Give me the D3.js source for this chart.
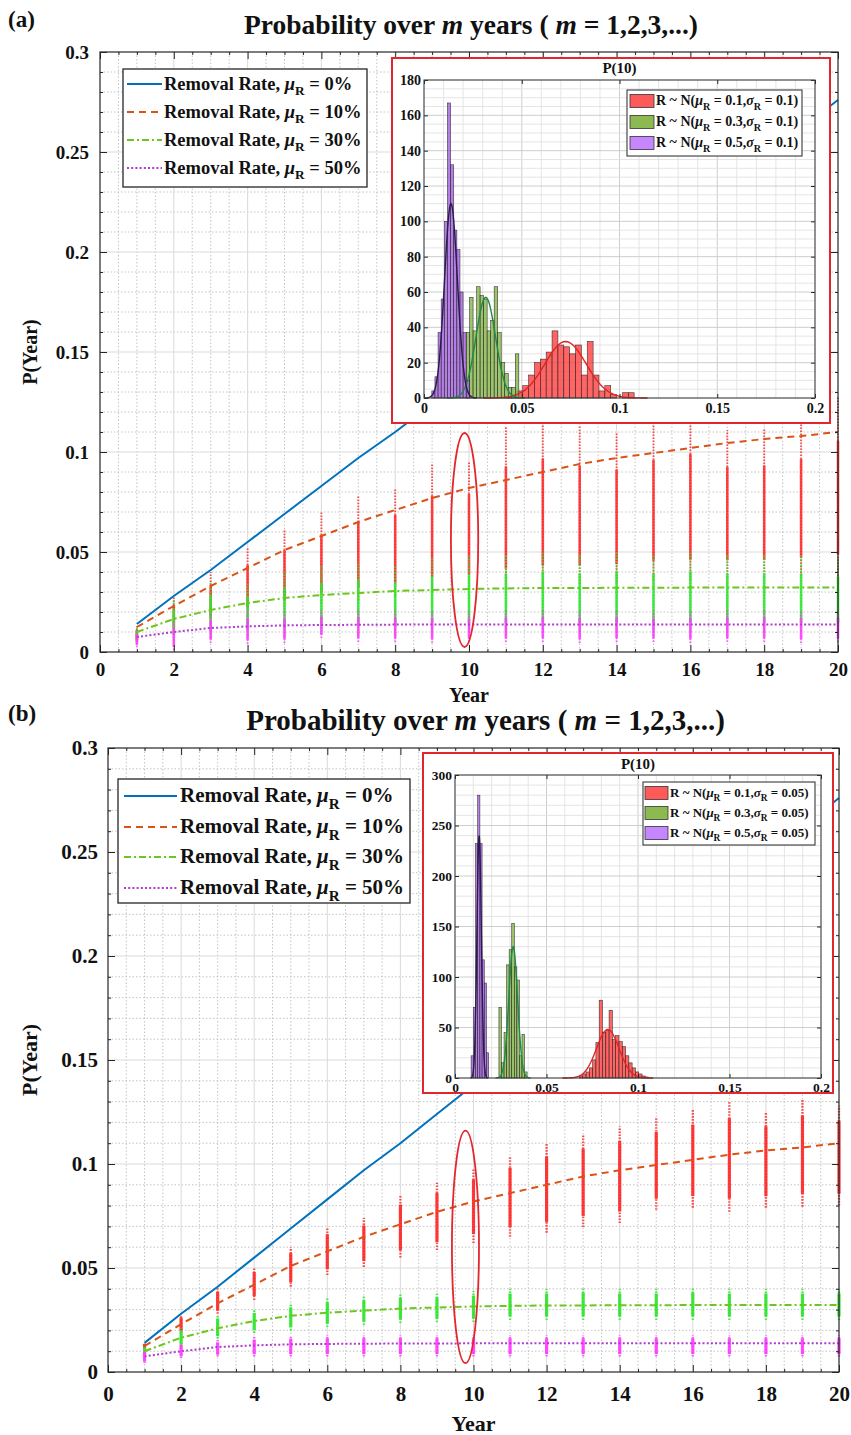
<!DOCTYPE html>
<html>
<head>
<meta charset="utf-8">
<script src="https://cdn.jsdelivr.net/npm/d3@7"></script>
<style>
  body { margin: 0; background: #fff; }
  svg { display: block; font-family: "Liberation Serif", "Times New Roman", serif; font-weight: bold; }
</style>
</head>
<body>
<svg id="fig" width="851" height="1435"></svg>
<script>
// ---------- data ----------
const years = [1, 2, 3, 4, 5, 6, 7, 8, 9, 10, 11, 12, 13, 14, 15, 16, 17, 18, 19, 20];
const xTickLabels = [0, 2, 4, 6, 8, 10, 12, 14, 16, 18, 20];
const yTickLabels = [0, 0.05, 0.1, 0.15, 0.2, 0.25, 0.3];

// mean probability curves for each removal rate
const pRate0  = [0.014, 0.028, 0.041, 0.055, 0.069, 0.083, 0.097, 0.110, 0.124, 0.138, 0.152, 0.166, 0.179, 0.193, 0.207, 0.221, 0.235, 0.248, 0.262, 0.276];
const pRate10 = [0.0125, 0.023, 0.033, 0.042, 0.051, 0.058, 0.065, 0.071, 0.077, 0.082, 0.086, 0.090, 0.094, 0.097, 0.0995, 0.102, 0.1045, 0.1065, 0.108, 0.110];
const pRate30 = [0.010, 0.0165, 0.021, 0.0245, 0.027, 0.0285, 0.0295, 0.0305, 0.031, 0.0315, 0.0318, 0.032, 0.032, 0.0321, 0.0321, 0.0322, 0.0322, 0.0322, 0.0322, 0.0322];
const pRate50 = [0.0075, 0.010, 0.012, 0.0128, 0.0133, 0.0135, 0.0136, 0.0137, 0.0137, 0.0138, 0.0138, 0.0138, 0.0138, 0.0138, 0.0138, 0.0138, 0.0138, 0.0138, 0.0138, 0.0138];
const legendRates = ["0%", "10%", "30%", "50%"];

// Monte Carlo spread (min / max of simulated P) per year, sigma_R = 0.1
const spreadA = {
  r10Lo: [0.005, 0.010, 0.014, 0.018, 0.021, 0.024, 0.026, 0.028, 0.030, 0.031, 0.032, 0.033, 0.034, 0.035, 0.036, 0.036, 0.037, 0.037, 0.038, 0.038],
  r10Hi: [0.013, 0.028, 0.040, 0.052, 0.061, 0.070, 0.078, 0.082, 0.094, 0.095, 0.113, 0.118, 0.113, 0.110, 0.116, 0.120, 0.111, 0.112, 0.116, 0.128],
  r30Lo: [0.004, 0.006, 0.007, 0.008, 0.008, 0.009, 0.009, 0.009, 0.010, 0.010, 0.010, 0.010, 0.010, 0.010, 0.010, 0.010, 0.010, 0.010, 0.010, 0.010],
  r30Hi: [0.013, 0.026, 0.035, 0.034, 0.040, 0.043, 0.045, 0.043, 0.047, 0.048, 0.049, 0.050, 0.049, 0.050, 0.049, 0.050, 0.049, 0.049, 0.049, 0.047],
  r50Lo: [0.0025, 0.001, 0.0045, 0.004, 0.0045, 0.007, 0.005, 0.005, 0.0045, 0.005, 0.005, 0.005, 0.0045, 0.005, 0.005, 0.0045, 0.005, 0.005, 0.0045, 0.005],
  r50Hi: [0.011, 0.016, 0.0195, 0.021, 0.0205, 0.021, 0.0215, 0.021, 0.021, 0.0205, 0.021, 0.0215, 0.021, 0.021, 0.0205, 0.021, 0.021, 0.0215, 0.021, 0.021]
};
// Monte Carlo spread per year, sigma_R = 0.05
const spreadB = {
  r10Lo: [0.011, 0.0188, 0.028, 0.0346, 0.041, 0.0466, 0.0505, 0.055, 0.0586, 0.062, 0.065, 0.067, 0.0697, 0.0716, 0.078, 0.079, 0.077, 0.079, 0.0795, 0.080],
  r10Hi: [0.014, 0.0274, 0.0404, 0.0505, 0.060, 0.0697, 0.074, 0.085, 0.091, 0.098, 0.104, 0.110, 0.114, 0.118, 0.122, 0.126, 0.130, 0.125, 0.131, 0.128],
  r30Lo: [0.008, 0.012, 0.016, 0.0188, 0.020, 0.0216, 0.0226, 0.0235, 0.024, 0.024, 0.025, 0.025, 0.025, 0.025, 0.025, 0.025, 0.025, 0.025, 0.025, 0.025],
  r30Hi: [0.0125, 0.021, 0.0274, 0.030, 0.033, 0.0356, 0.0365, 0.038, 0.038, 0.039, 0.040, 0.040, 0.0405, 0.040, 0.040, 0.0405, 0.040, 0.040, 0.040, 0.040],
  r50Lo: [0.0043, 0.0067, 0.0074, 0.0074, 0.0074, 0.0074, 0.0074, 0.0074, 0.0074, 0.0074, 0.0074, 0.0074, 0.0074, 0.0074, 0.0074, 0.0074, 0.0074, 0.0074, 0.0074, 0.0074],
  r50Hi: [0.0106, 0.014, 0.0155, 0.017, 0.0175, 0.0178, 0.0178, 0.0178, 0.0178, 0.0178, 0.0178, 0.0178, 0.0178, 0.0178, 0.0178, 0.0178, 0.0178, 0.0178, 0.0178, 0.0178]
};

// P(10) histograms, sigma_R = 0.1  (order: mu_R = 0.1, 0.3, 0.5)
const binStartA = [0.0415, 0.0215, 0.004];
const binWidthA = [0.003, 0.0018, 0.0016];
const countsRedA    = [1, 2, 4, 7, 13, 20, 22, 26, 38, 30, 29, 25, 30, 13, 32, 13, 4, 7, 2, 0, 3, 3];
const countsGreenA  = [37, 57, 38, 63, 58, 56, 38, 44, 63, 37, 20, 14, 6, 6, 25];
const countsPurpleA = [4, 12, 37, 56, 100, 167, 132, 95, 84, 60, 37, 10];
const fitMeanA = [0.0724, 0.0316, 0.0138];
const fitSdA   = [0.0105, 0.0050, 0.0033];
const fitPeakA = [32, 57, 110];
const histYTicksA = [0, 20, 40, 60, 80, 100, 120, 140, 160, 180];

// P(10) histograms, sigma_R = 0.05
const binStartB = [0.068, 0.024, 0.0088];
const binWidthB = [0.0018, 0.0014, 0.0012];
const countsRedB    = [2, 4, 6, 10, 18, 35, 77, 45, 47, 67, 38, 42, 36, 31, 22, 15, 10, 6, 4, 2, 1];
const countsGreenB  = [70, 15, 45, 112, 127, 153, 110, 97, 22, 43, 6];
const countsPurpleB = [22, 70, 232, 280, 232, 117, 94, 25];
const fitMeanB = [0.0835, 0.0318, 0.0132];
const fitSdB   = [0.0062, 0.0024, 0.0012];
const fitPeakB = [48, 130, 240];
const histYTicksB = [0, 50, 100, 150, 200, 250, 300];
const histXTicks = [0, 0.05, 0.1, 0.15, 0.2];
const histMus = ["0.1", "0.3", "0.5"];

// ---------- styles ----------
const curveStyles = [
  { color: "#0072BD", dash: null },
  { color: "#D95319", dash: "7,5" },
  { color: "#6cc61e", dash: "7,3,2,3" },
  { color: "#b23ad0", dash: "2,2.2" }
];
const streakColors = ["#ff2a2a", "#2ee62e", "#ff3cff"];
const histFill = ["#ff3e3e", "#86b548", "#a35fe0"];
const histSwatch = ["#ff5a5a", "#8cba50", "#c586ff"];
const fitColors = ["#e02525", "#1e8a4c", "#2b1a4f"];

const svg = d3.select("#fig");
const fmt = d => String(+d.toFixed(3));

function rich(textSel, parts, fs) {
  let prevSub = false;
  parts.forEach(p => {
    const ts = textSel.append("tspan").text(p.t);
    if (p.it) ts.attr("font-style", "italic");
    if (p.sub) ts.attr("font-size", fs * 0.72);
    if (p.sub && !prevSub) ts.attr("dy", fs * 0.32);
    else if (!p.sub && prevSub) ts.attr("dy", -fs * 0.32);
    prevSub = !!p.sub;
  });
}

function styleAxis(g, fs) {
  g.select(".domain").remove();
  g.selectAll("line").attr("stroke", "#262626");
  g.selectAll("text").attr("font-family", "Liberation Serif, serif")
    .attr("font-weight", "bold").attr("font-size", fs).attr("fill", "#111");
}

// ---------- main panel ----------
function drawMain(P) {
  const g = svg.append("g");
  const x = d3.scaleLinear().domain([0, 20]).range([P.left, P.right]);
  const y = d3.scaleLinear().domain([0, 0.3]).range([P.bottom, P.top]);

  // grid: minor dotted, major solid
  const gx = d3.range(0.5, 20, 0.5).filter(v => v % 2 !== 0);
  const gy = d3.range(1, 30).map(v => v / 100).filter((v, i) => (i + 1) % 5 !== 0);
  g.append("g").selectAll("line").data(gx).join("line")
    .attr("x1", d => x(d)).attr("x2", d => x(d)).attr("y1", P.top).attr("y2", P.bottom)
    .attr("stroke", "#bdbdbd").attr("stroke-width", 0.9).attr("stroke-dasharray", "1.5,2");
  g.append("g").selectAll("line").data(gy).join("line")
    .attr("y1", d => y(d)).attr("y2", d => y(d)).attr("x1", P.left).attr("x2", P.right)
    .attr("stroke", "#bdbdbd").attr("stroke-width", 0.9).attr("stroke-dasharray", "1.5,2");
  g.append("g").selectAll("line").data(xTickLabels.slice(1, -1)).join("line")
    .attr("x1", d => x(d)).attr("x2", d => x(d)).attr("y1", P.top).attr("y2", P.bottom)
    .attr("stroke", "#dcdcdc").attr("stroke-width", 1.1);
  g.append("g").selectAll("line").data(yTickLabels.slice(1, -1)).join("line")
    .attr("y1", d => y(d)).attr("y2", d => y(d)).attr("x1", P.left).attr("x2", P.right)
    .attr("stroke", "#dcdcdc").attr("stroke-width", 1.1);

  // Monte Carlo spreads
  const S = P.spread;
  const groups = [[S.r10Lo, S.r10Hi], [S.r30Lo, S.r30Hi], [S.r50Lo, S.r50Hi]];
  groups.forEach(([lo, hi], k) => {
    const sg = g.append("g");
    const rows = years.map((yr, i) => ({ yr, lo: lo[i], hi: hi[i] }));
    sg.selectAll("line.out").data(rows).join("line").attr("class", "out")
      .attr("x1", d => x(d.yr)).attr("x2", d => x(d.yr))
      .attr("y1", d => y(d.lo)).attr("y2", d => y(d.hi))
      .attr("stroke", streakColors[k]).attr("stroke-width", P.streakW * 0.75)
      .attr("stroke-dasharray", "1.6,1.4").attr("opacity", 0.8);
    sg.selectAll("line.core").data(rows).join("line").attr("class", "core")
      .attr("x1", d => x(d.yr)).attr("x2", d => x(d.yr))
      .attr("y1", d => y(d.lo + 0.12 * (d.hi - d.lo))).attr("y2", d => y(d.hi - P.coreTop * (d.hi - d.lo)))
      .attr("stroke", streakColors[k]).attr("stroke-width", P.streakW).attr("opacity", P.coreOpacity);
  });

  // mean curves
  const line = d3.line().x((d, i) => x(years[i])).y(d => y(d));
  [pRate0, pRate10, pRate30, pRate50].forEach((s, k) => {
    g.append("path").attr("d", line(s)).attr("fill", "none")
      .attr("stroke", curveStyles[k].color).attr("stroke-width", 2)
      .attr("stroke-dasharray", curveStyles[k].dash);
  });

  // highlight of year 10
  const E = P.ellipse;
  g.append("ellipse")
    .attr("cx", x(E.year)).attr("cy", (y(E.lo) + y(E.hi)) / 2)
    .attr("rx", x(E.year + E.halfW) - x(E.year)).attr("ry", (y(E.lo) - y(E.hi)) / 2)
    .attr("fill", "none").attr("stroke", "#e3262d").attr("stroke-width", 1.8);

  // axes
  const ax = g.append("g");
  const bottom = ax.append("g").attr("transform", `translate(0,${P.bottom})`)
    .call(d3.axisBottom(x).tickValues(xTickLabels).tickSize(-7).tickPadding(P.tickPad).tickFormat(fmt));
  styleAxis(bottom, P.tickFs);
  const top = ax.append("g").attr("transform", `translate(0,${P.top})`)
    .call(d3.axisTop(x).tickValues(xTickLabels).tickSize(-7).tickFormat(""));
  styleAxis(top, P.tickFs);
  const left = ax.append("g").attr("transform", `translate(${P.left},0)`)
    .call(d3.axisLeft(y).tickValues(yTickLabels).tickSize(-7).tickPadding(P.tickPadY).tickFormat(fmt));
  styleAxis(left, P.tickFs);
  const right = ax.append("g").attr("transform", `translate(${P.right},0)`)
    .call(d3.axisRight(y).tickValues(yTickLabels).tickSize(-7).tickFormat(""));
  styleAxis(right, P.tickFs);
  // minor ticks
  [[d3.axisBottom(x), P.bottom], [d3.axisTop(x), P.top]].forEach(([a, ty]) => {
    const m = ax.append("g").attr("transform", `translate(0,${ty})`)
      .call(a.tickValues(gx).tickSize(-3).tickFormat(""));
    styleAxis(m, 10);
  });
  [[d3.axisLeft(y), P.left], [d3.axisRight(y), P.right]].forEach(([a, tx]) => {
    const m = ax.append("g").attr("transform", `translate(${tx},0)`)
      .call(a.tickValues(gy).tickSize(-3).tickFormat(""));
    styleAxis(m, 10);
  });
  ax.append("rect").attr("x", P.left).attr("y", P.top)
    .attr("width", P.right - P.left).attr("height", P.bottom - P.top)
    .attr("fill", "none").attr("stroke", "#262626").attr("stroke-width", 1.2);

  // titles and labels
  const t = svg.append("text").attr("x", (P.left + P.right) / 2 + P.titleDx).attr("y", P.titleY)
    .attr("text-anchor", "middle").attr("font-size", P.titleFs).attr("fill", "#111");
  rich(t, [{ t: "Probability over " }, { t: "m", it: true }, { t: " years ( " }, { t: "m", it: true }, { t: " = 1,2,3,...)" }], P.titleFs);
  svg.append("text").attr("x", 8).attr("y", P.tagY).attr("font-size", P.tagFs).attr("fill", "#111").text(P.tag);
  svg.append("text").attr("x", (P.left + P.right) / 2).attr("y", P.xLabelY)
    .attr("text-anchor", "middle").attr("font-size", P.labelFs).attr("fill", "#111").text("Year");
  svg.append("text").attr("transform", `translate(${P.yLabelX},${(P.top + P.bottom) / 2}) rotate(-90)`)
    .attr("text-anchor", "middle").attr("font-size", P.labelFs).attr("fill", "#111").text("P(Year)");

  // legend
  const L = P.legend;
  const lg = svg.append("g");
  lg.append("rect").attr("x", L.x0).attr("y", L.y0).attr("width", L.x1 - L.x0).attr("height", L.y1 - L.y0)
    .attr("fill", "#fff").attr("stroke", "#262626").attr("stroke-width", 1.3);
  legendRates.forEach((r, k) => {
    const yy = L.rows[k];
    lg.append("line").attr("x1", L.lx0).attr("x2", L.lx1).attr("y1", yy).attr("y2", yy)
      .attr("stroke", curveStyles[k].color).attr("stroke-width", 2)
      .attr("stroke-dasharray", curveStyles[k].dash);
    const tx = lg.append("text").attr("x", L.tx).attr("y", yy + L.fs * 0.3)
      .attr("font-size", L.fs).attr("fill", "#111");
    rich(tx, [{ t: "Removal Rate, " }, { t: "\u03bc", it: true }, { t: "R", sub: true }, { t: " = " + r }], L.fs);
  });
}

// ---------- inset histogram ----------
function drawInset(I) {
  const g = svg.append("g");
  g.append("rect").attr("x", I.fx0).attr("y", I.fy0).attr("width", I.fx1 - I.fx0).attr("height", I.fy1 - I.fy0)
    .attr("fill", "#fff").attr("stroke", "#e3262d").attr("stroke-width", 2);
  const x = d3.scaleLinear().domain([0, 0.2]).range([I.left, I.right]);
  const y = d3.scaleLinear().domain([0, I.ymax]).range([I.bottom, I.top]);

  // grid
  const gx = d3.range(1, 20).map(v => v / 100);
  const gy = d3.range(I.yMinor, I.ymax, I.yMinor);
  g.append("g").selectAll("line").data(gx).join("line")
    .attr("x1", d => x(d)).attr("x2", d => x(d)).attr("y1", I.top).attr("y2", I.bottom)
    .attr("stroke", (d, i) => (i + 1) % 5 === 0 ? "#c8c8c8" : "#e2e2e2").attr("stroke-width", 0.9);
  g.append("g").selectAll("line").data(gy).join("line")
    .attr("y1", d => y(d)).attr("y2", d => y(d)).attr("x1", I.left).attr("x2", I.right)
    .attr("stroke", d => I.yTicks.includes(d) ? "#c8c8c8" : "#e2e2e2").attr("stroke-width", 0.9);

  // bars
  I.counts.forEach((cnt, k) => {
    const bars = cnt.map((c, i) => ({ x0: I.start[k] + i * I.width[k], x1: I.start[k] + (i + 1) * I.width[k], c }));
    g.append("g").selectAll("rect").data(bars.filter(b => b.c > 0)).join("rect")
      .attr("x", d => x(d.x0)).attr("width", d => x(d.x1) - x(d.x0))
      .attr("y", d => y(d.c)).attr("height", d => y(0) - y(d.c))
      .attr("fill", histFill[k]).attr("fill-opacity", 0.8)
      .attr("stroke", "#1f1f1f").attr("stroke-width", 0.6).attr("stroke-opacity", 0.85);
  });
  // fitted normal curves
  I.fitMean.forEach((mu, k) => {
    const sd = I.fitSd[k];
    const pts = d3.range(81).map(i => mu - 4 * sd + i * 8 * sd / 80);
    const ln = d3.line().x(v => x(v)).y(v => y(I.fitPeak[k] * Math.exp(-0.5 * ((v - mu) / sd) ** 2)));
    g.append("path").attr("d", ln(pts.filter(v => v >= 0))).attr("fill", "none")
      .attr("stroke", fitColors[k]).attr("stroke-width", 1.4);
  });

  // axes
  const b = g.append("g").attr("transform", `translate(0,${I.bottom})`)
    .call(d3.axisBottom(x).tickValues(histXTicks).tickSize(-4).tickPadding(I.tickPad).tickFormat(fmt));
  styleAxis(b, I.tickFs);
  const t = g.append("g").attr("transform", `translate(0,${I.top})`)
    .call(d3.axisTop(x).tickValues(histXTicks).tickSize(-4).tickFormat(""));
  styleAxis(t, I.tickFs);
  const l = g.append("g").attr("transform", `translate(${I.left},0)`)
    .call(d3.axisLeft(y).tickValues(I.yTicks).tickSize(-4).tickPadding(3).tickFormat(fmt));
  styleAxis(l, I.tickFs);
  const r = g.append("g").attr("transform", `translate(${I.right},0)`)
    .call(d3.axisRight(y).tickValues(I.yTicks).tickSize(-4).tickFormat(""));
  styleAxis(r, I.tickFs);
  g.append("rect").attr("x", I.left).attr("y", I.top).attr("width", I.right - I.left).attr("height", I.bottom - I.top)
    .attr("fill", "none").attr("stroke", "#3a3a3a").attr("stroke-width", 1.1);
  g.append("text").attr("x", (I.left + I.right) / 2).attr("y", I.titleY)
    .attr("text-anchor", "middle").attr("font-size", I.titleFs).attr("fill", "#111").text("P(10)");

  // legend
  const L = I.legend;
  g.append("rect").attr("x", L.x0).attr("y", L.y0).attr("width", L.x1 - L.x0).attr("height", L.y1 - L.y0)
    .attr("fill", "#fff").attr("stroke", "#3a3a3a").attr("stroke-width", 1.1);
  histMus.forEach((m, k) => {
    const yy = L.rows[k];
    g.append("rect").attr("x", L.sx0).attr("y", yy - 6.5).attr("width", L.sx1 - L.sx0).attr("height", 13)
      .attr("fill", histSwatch[k]).attr("stroke", "#333").attr("stroke-width", 0.8);
    const tx = g.append("text").attr("x", L.tx).attr("y", yy + L.fs * 0.3)
      .attr("font-size", L.fs).attr("fill", "#111");
    rich(tx, [{ t: "R ~ N(" }, { t: "\u03bc", it: true }, { t: "R", sub: true }, { t: " = " + m + "," },
              { t: "\u03c3", it: true }, { t: "R", sub: true }, { t: " = " + I.sigmaText + ")" }], L.fs);
  });
}

// ---------- panel (a): sigma_R = 0.1 ----------
drawMain({
  id: "a", left: 100, right: 838, top: 52, bottom: 652,
  spread: spreadA, streakW: 2.6, coreTop: 0.25, coreOpacity: 0.85,
  ellipse: { year: 9.88, halfW: 0.37, lo: 0.0025, hi: 0.1095 },
  tickFs: 19, tickPad: 11, tickPadY: 11,
  titleY: 34, titleFs: 27.5, titleDx: 2, tag: "(a)", tagY: 27, tagFs: 23,
  xLabelY: 702, yLabelX: 37, labelFs: 20,
  legend: { x0: 123, x1: 367, y0: 69, y1: 187, rows: [84, 112, 140, 168], lx0: 127, lx1: 162, tx: 164, fs: 18.5 }
});
drawInset({
  fx0: 392, fx1: 830, fy0: 58, fy1: 423,
  left: 424, right: 815, top: 80, bottom: 398, ymax: 180, yMinor: 5, yTicks: histYTicksA,
  start: binStartA, width: binWidthA, counts: [countsRedA, countsGreenA, countsPurpleA],
  fitMean: fitMeanA, fitSd: fitSdA, fitPeak: fitPeakA,
  tickFs: 14, tickPad: 5, titleY: 73, titleFs: 15, sigmaText: "0.1",
  legend: { x0: 627, x1: 802, y0: 90, y1: 156, rows: [101, 122, 143], sx0: 630, sx1: 654, tx: 656, fs: 14 }
});

// ---------- panel (b): sigma_R = 0.05 ----------
drawMain({
  id: "b", left: 108, right: 839, top: 748, bottom: 1372,
  spread: spreadB, streakW: 3.2, coreTop: 0.15, coreOpacity: 0.9,
  ellipse: { year: 9.78, halfW: 0.37, lo: 0.0043, hi: 0.116 },
  tickFs: 21, tickPad: 14, tickPadY: 10,
  titleY: 730, titleFs: 29, titleDx: 12, tag: "(b)", tagY: 721, tagFs: 23,
  xLabelY: 1431, yLabelX: 37, labelFs: 22,
  legend: { x0: 118, x1: 410, y0: 779, y1: 903, rows: [796, 827, 857, 888], lx0: 124, lx1: 177, tx: 180, fs: 21 }
});
drawInset({
  fx0: 423, fx1: 833, fy0: 753, fy1: 1093,
  left: 455, right: 821, top: 775, bottom: 1078, ymax: 300, yMinor: 10, yTicks: histYTicksB,
  start: binStartB, width: binWidthB, counts: [countsRedB, countsGreenB, countsPurpleB],
  fitMean: fitMeanB, fitSd: fitSdB, fitPeak: fitPeakB,
  tickFs: 13.5, tickPad: 4, titleY: 769, titleFs: 15, sigmaText: "0.05",
  legend: { x0: 643, x1: 815, y0: 782, y1: 845, rows: [793, 813, 833], sx0: 645, sx1: 668, tx: 670, fs: 13 }
});
</script>
</body>
</html>
